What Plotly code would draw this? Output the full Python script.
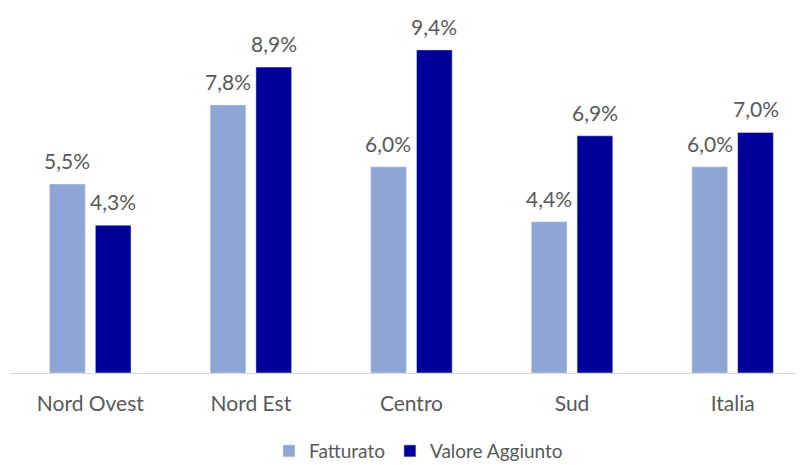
import plotly.graph_objects as go

categories = ["Nord Ovest", "Nord Est", "Centro", "Sud", "Italia"]
fatturato = [5.5, 7.8, 6.0, 4.4, 6.0]
valore_aggiunto = [4.3, 8.9, 9.4, 6.9, 7.0]

font_fam = "Lato, 'Open Sans', sans-serif"
fig = go.Figure()
fig.add_trace(go.Bar(x=categories, y=fatturato, name="Fatturato",
                     marker_color="#8FA5D5"))
fig.add_trace(go.Bar(x=categories, y=valore_aggiunto, name="Valore Aggiunto",
                     marker_color="#000099"))

def fmt(v):
    return f"{v:.1f}%".replace(".", ",")

for series, shift in ((fatturato, -23), (valore_aggiunto, 23)):
    for c, v in zip(categories, series):
        fig.add_annotation(x=c, y=v, text=fmt(v), showarrow=False,
                           xshift=shift, yshift=9, yanchor="bottom",
                           font=dict(size=21, color="#595959", family=font_fam))

fig.update_layout(
    width=803, height=465,
    margin=dict(l=2, r=0, t=2, b=100, autoexpand=False),
    paper_bgcolor="white", plot_bgcolor="white",
    separators=",.",
    barmode="group", bargap=0.43, bargroupgap=0.22,
    font=dict(family=font_fam, color="#595959"),
    xaxis=dict(range=[-0.5, 4.488], showline=True, linecolor="#D9D9D9", linewidth=1,
               ticks="outside", ticklen=12, tickcolor="rgba(0,0,0,0)", automargin=False,
               tickfont=dict(size=21, color="#595959"), showgrid=False),
    yaxis=dict(range=[0, 10.56], visible=False, showgrid=False, zeroline=False),
    legend=dict(orientation="h", x=0.51, xanchor="center", y=-0.215, yref="paper",
                yanchor="middle", font=dict(size=19, color="#595959")),
    showlegend=True,
)
fig.write_html("out.html")
